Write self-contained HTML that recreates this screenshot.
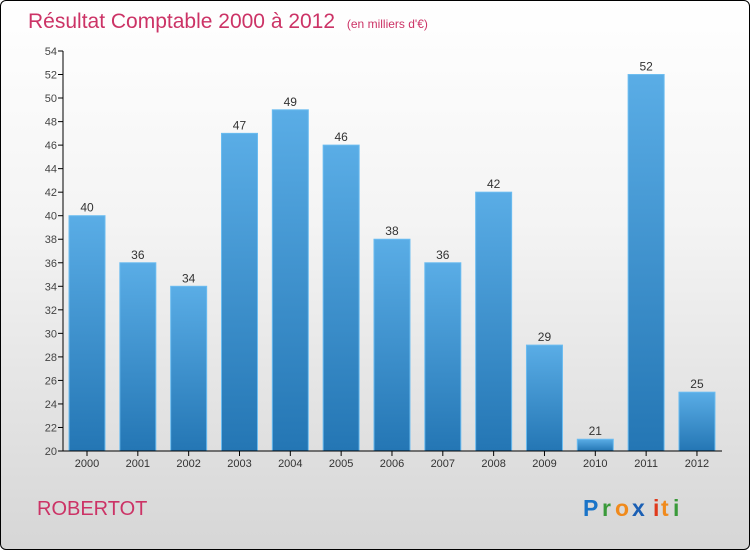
<!DOCTYPE html>
<html><head><meta charset="utf-8"><style>
html,body{margin:0;padding:0}
body{width:750px;height:550px;overflow:hidden;font-family:"Liberation Sans",sans-serif}
#frame{position:absolute;left:0;top:0;width:748px;height:548px;border:1px solid #000;border-radius:6px;background:linear-gradient(#ffffff,#f4f4f4 40%,#d6d6d6);overflow:hidden}
</style></head><body>
<div id="frame">
<svg width="750" height="550" id="chart">
<defs><linearGradient id="bg" x1="0" y1="0" x2="0" y2="1"><stop offset="0" stop-color="#5aade6"/><stop offset="1" stop-color="#2476b4"/></linearGradient></defs>
<text x="27" y="27" font-size="21" fill="#cc3366">Résultat Comptable 2000 à 2012 <tspan font-size="12" dx="6">(en milliers d'€)</tspan></text>
<text x="36" y="514" font-size="20" fill="#cc3366">ROBERTOT</text>
<g font-size="23" font-weight="bold"><text x="582" y="515" fill="#1a74c8">P</text><text x="601" y="515" fill="#3a9a3a">r</text><text x="614" y="515" fill="#f08a1c">o</text><text x="631" y="515" fill="#1a5fb4">x</text><text x="652" y="515" fill="#e03a1c">i</text><text x="660" y="515" fill="#f08a1c">t</text><text x="672" y="515" fill="#3a9a3a">i</text></g>
<g id="plot"></g>
</svg>
</div>
<script>
const years=["2000","2001","2002","2003","2004","2005","2006","2007","2008","2009","2010","2011","2012"];
const values=[40,36,34,47,49,46,38,36,42,29,21,52,25];
const yTicks=[20,22,24,26,28,30,32,34,36,38,40,42,44,46,48,50,52,54];
const ns="http://www.w3.org/2000/svg",g=document.getElementById('plot');
const y=v=>450-(v-20)*400/34, x=i=>86+i*50.83;
function mk(t,a,txt){const e=document.createElementNS(ns,t);for(const k in a)e.setAttribute(k,a[k]);if(txt!=null)e.textContent=txt;g.appendChild(e);return e;}
yTicks.forEach(v=>{
 const t=mk('line',{x1:57,x2:62,y1:y(v),y2:y(v),stroke:'#000'});
 
 const l=mk('text',{x:56,y:y(v)+4,'font-size':11,fill:'#444','text-anchor':'end'},v);
 
});
values.forEach((v,i)=>{
 const b=mk('rect',{x:x(i)-18,y:y(v),width:36,height:450-y(v),fill:'url(#bg)',stroke:'#6bbcf0','stroke-width':1});
 
 const l=mk('text',{x:x(i),y:y(v)-4,'font-size':12,fill:'#333','text-anchor':'middle'},v);
 
 const tk=mk('line',{x1:x(i),x2:x(i),y1:450,y2:455,stroke:'#000'});
 
 const xl=mk('text',{x:x(i),y:466,'font-size':11,fill:'#333','text-anchor':'middle'},years[i]);
 
});
const ya=mk('line',{x1:62,x2:62,y1:50,y2:450,stroke:'#000'});

const xa=mk('line',{x1:62,x2:721,y1:450,y2:450,stroke:'#000'});

</script>
</body></html>
